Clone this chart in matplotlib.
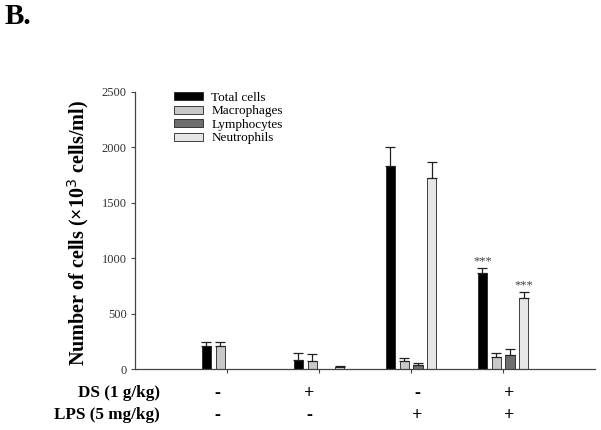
import matplotlib
matplotlib.use("Agg")
import matplotlib.pyplot as plt
import numpy as np

plt.rcParams['font.family'] = ['Liberation Serif', 'DejaVu Serif']

series = ["Total cells", "Macrophages", "Lymphocytes", "Neutrophils"]
colors = ["#000000", "#c8c8c8", "#6e6e6e", "#e6e6e6"]
groups = [1, 2, 3, 4]
total = [210, 85, 1835, 870]
total_err = [35, 55, 170, 42]
macro = [205, 75, 70, 105]
macro_err = [35, 60, 27, 38]
lymph = [0, 0, 40, 125]
lymph_err = [0, 0, 15, 55]
neut = [0, 20, 1725, 640]
neut_err = [0, 5, 140, 52]
ds_signs = ["-", "+", "-", "+"]
lps_signs = ["-", "-", "+", "+"]
yticks = [0, 500, 1000, 1500, 2000, 2500]

fig = plt.figure(figsize=(6.01, 4.30), dpi=100)
ax = fig.add_axes([135/601, 61/430, 460/601, 277/430])

vals = [total, macro, lymph, neut]
errs = [total_err, macro_err, lymph_err, neut_err]
offsets = [-0.225, -0.075, 0.075, 0.225]
x = np.array(groups, dtype=float)
for i in range(4):
    v = np.array(vals[i], dtype=float)
    e = np.array(errs[i], dtype=float)
    ax.bar(x + offsets[i], v, width=0.1, color=colors[i], edgecolor='#222222',
           linewidth=0.6, label=series[i], zorder=2)
    mask = v > 0
    ax.errorbar((x + offsets[i])[mask], v[mask], yerr=[np.zeros(mask.sum()), e[mask]],
                fmt='none', ecolor='#222222', elinewidth=0.9, capsize=3.3,
                capthick=0.9, zorder=3)

# significance marks
for i, gi in [(0, 3), (3, 3)]:
    top = vals[i][gi] + errs[i][gi]
    ax.text(x[gi] + offsets[i], top + 10, "***", ha='center', va='bottom',
            fontsize=9, color='#444444')

ax.set_xlim(0, 5)
ax.set_ylim(0, 2500)
ax.set_yticks(yticks)
ax.set_yticklabels([str(t) for t in yticks], fontsize=9, color='#333333')
ax.set_xticks(groups)
ax.set_xticklabels([])
ax.tick_params(axis='both', direction='out', length=3, width=0.8, color='#444444')
ax.tick_params(axis='y', pad=3)
for s in ['top', 'right']:
    ax.spines[s].set_visible(False)
for s in ['left', 'bottom']:
    ax.spines[s].set_color('#444444')
    ax.spines[s].set_linewidth(0.9)

ax.set_ylabel("Number of cells (×10$^3$ cells/ml)", fontsize=14.5, fontweight='bold')
ax.yaxis.set_label_coords(-0.095, 0.49)

leg = ax.legend(loc='upper left', bbox_to_anchor=(0.074, 1.020), frameon=False,
                fontsize=9.5, handlelength=2.2, handleheight=0.55,
                labelspacing=0.12, handletextpad=0.6, borderaxespad=0)

# bottom condition labels
trans = ax.get_xaxis_transform()
sign_pos = [0.89, 1.89, 3.07, 4.07]
for xp, s in zip(sign_pos, ds_signs):
    ax.text(xp, -0.088, s, transform=trans, ha='center', va='center',
            fontsize=13, fontweight='bold')
for xp, s in zip(sign_pos, lps_signs):
    ax.text(xp, -0.168, s, transform=trans, ha='center', va='center',
            fontsize=13, fontweight='bold')
fig.text(160/601, 1 - 393/430, "DS (1 g/kg)", ha='right', va='center',
         fontsize=12.3, fontweight='bold')
fig.text(160/601, 1 - 415/430, "LPS (5 mg/kg)", ha='right', va='center',
         fontsize=12.3, fontweight='bold')

fig.text(5/601, 1 - 16/430, "B.", ha='left', va='center', fontsize=21,
         fontweight='bold')

fig.savefig("out.png", dpi=100)
